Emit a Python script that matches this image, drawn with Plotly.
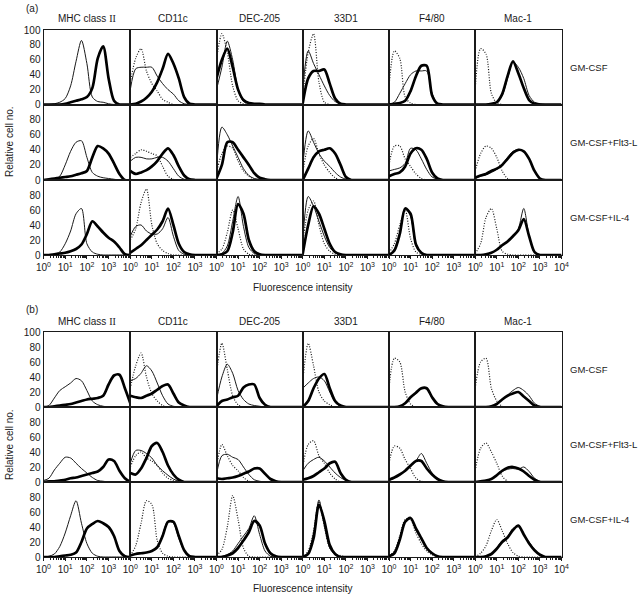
import plotly.graph_objects as go

# ---------------- data ----------------
# fluorescence bins (channel values, log-spaced, quarter decades)
bins = [1, 1.778, 3.162, 5.623, 10, 17.78, 31.62, 56.23, 100, 177.8, 316.2, 562.3,
        1000, 1778, 3162, 5623, 10000]

markers = ["MHC class <span style='font-family:Liberation Serif, serif'>II</span>",
           "CD11c", "DEC-205", "33D1", "F4/80", "Mac-1"]
conditions = ["GM-CSF", "GM-CSF+Flt3-L", "GM-CSF+IL-4"]
x_tick_vals = [1, 10, 100, 1000, 10000]
x_tick_text = ["10<sup>0</sup>", "10<sup>1</sup>", "10<sup>2</sup>", "10<sup>3</sup>", "10<sup>4</sup>"]
y_tick_vals = [0, 20, 40, 60, 80, 100]

# ----- panel (a) -----
a1_mhc_thin = [0, 0, 1, 3, 8, 25, 58, 86, 55, 10, 4, 3, 1]
a1_mhc_thick = [0, 0, 0, 0, 1, 3, 5, 7, 10, 22, 62, 78, 35, 5, 0]
a1_cd11c_dot = [30, 62, 75, 45, 28, 18, 7, 3, 0]
a1_cd11c_thin = [20, 48, 50, 50, 50, 38, 28, 20, 14, 5, 1, 0]
a1_cd11c_thick = [0, 1, 4, 9, 17, 30, 48, 68, 55, 35, 10, 1, 0]
a1_dec_dot = [60, 95, 70, 25, 5, 1, 0]
a1_dec_thin = [20, 50, 85, 60, 20, 4, 1, 0]
a1_dec_thick = [35, 60, 75, 50, 20, 6, 2, 1, 1, 0]
a1_33d1_dot = [10, 70, 95, 30, 3, 0]
a1_33d1_thin = [20, 72, 55, 40, 25, 12, 4, 1, 0]
a1_33d1_thick = [2, 35, 45, 45, 47, 28, 8, 1, 0]
a1_f480_dot = [25, 72, 62, 10, 2, 0]
a1_f480_thin = [0, 3, 15, 28, 40, 45, 45, 45, 15, 1, 0]
a1_f480_thick = [0, 1, 2, 5, 18, 38, 52, 52, 12, 1, 0]
a1_mac_dot = [20, 75, 68, 15, 2, 0]
a1_mac_thin = [0, 0, 0, 1, 3, 12, 35, 57, 50, 35, 12, 3, 1, 0]
a1_mac_thick = [0, 0, 0, 1, 3, 14, 38, 58, 42, 22, 6, 1, 0]

a2_mhc_thin = [0, 0, 1, 5, 20, 38, 50, 52, 30, 10, 5, 3, 2, 1, 0]
a2_mhc_thick = [0, 1, 2, 3, 4, 5, 7, 9, 12, 30, 45, 42, 35, 22, 8, 0, 0]
a2_cd11c_dot = [30, 35, 40, 38, 35, 32, 18, 5, 1, 0]
a2_cd11c_thin = [25, 30, 30, 28, 28, 30, 30, 25, 15, 5, 1, 0]
a2_cd11c_thick = [12, 8, 10, 13, 18, 25, 35, 42, 33, 18, 6, 1, 0]
a2_dec_dot = [10, 35, 45, 42, 25, 12, 5, 1, 0]
a2_dec_thin = [15, 70, 60, 45, 30, 15, 6, 2, 1, 0]
a2_dec_thick = [2, 20, 50, 50, 40, 30, 20, 9, 3, 1, 0]
a2_33d1_dot = [10, 45, 55, 35, 20, 10, 3, 0]
a2_33d1_thin = [20, 65, 50, 35, 25, 18, 10, 4, 1, 0]
a2_33d1_thick = [0, 15, 30, 38, 40, 42, 35, 20, 4, 0]
a2_f480_dot = [20, 45, 45, 28, 18, 8, 2, 0]
a2_f480_thin = [12, 14, 16, 22, 42, 40, 28, 14, 4, 1, 0]
a2_f480_thick = [5, 8, 10, 18, 35, 42, 40, 28, 10, 2, 0]
a2_mac_dot = [12, 35, 45, 42, 30, 12, 2, 0]
a2_mac_thin = [2, 5, 7, 10, 14, 20, 30, 38, 40, 38, 28, 12, 2, 0]
a2_mac_thick = [3, 6, 8, 12, 15, 20, 28, 36, 40, 38, 28, 12, 2, 0]

a3_mhc_thin = [0, 0, 1, 4, 15, 32, 55, 62, 15, 4, 1, 0]
a3_mhc_thick = [0, 0, 1, 2, 3, 5, 8, 14, 28, 45, 38, 30, 23, 18, 10, 1, 0]
a3_cd11c_dot = [20, 35, 70, 88, 40, 15, 6, 2, 0]
a3_cd11c_thin = [25, 38, 40, 32, 28, 28, 35, 50, 25, 6, 1, 0]
a3_cd11c_thick = [3, 8, 13, 20, 27, 34, 45, 62, 40, 15, 4, 1, 0]
a3_dec_dot = [2, 8, 30, 60, 35, 8, 1, 0]
a3_dec_thin = [0, 2, 12, 45, 78, 38, 10, 2, 0]
a3_dec_thick = [0, 1, 5, 30, 68, 55, 20, 5, 1, 0]
a3_33d1_dot = [15, 60, 72, 40, 15, 5, 1, 0]
a3_33d1_thin = [20, 78, 65, 45, 25, 10, 3, 1, 0]
a3_33d1_thick = [2, 40, 65, 55, 35, 15, 4, 1, 0]
a3_f480_dot = [3, 15, 40, 60, 22, 4, 1, 0]
a3_f480_thin = [0, 8, 30, 62, 52, 12, 2, 0]
a3_f480_thick = [0, 6, 28, 62, 55, 14, 3, 0]
a3_mac_dot = [2, 15, 50, 62, 35, 5, 1, 0]
a3_mac_thin = [0, 0, 1, 3, 7, 13, 18, 25, 35, 62, 25, 3, 0]
a3_mac_thick = [0, 0, 1, 3, 7, 13, 18, 25, 33, 48, 25, 4, 0]

# ----- panel (b) -----
b1_mhc_thin = [0, 2, 12, 22, 27, 32, 38, 35, 22, 8, 3, 1, 0]
b1_mhc_thick = [0, 0, 1, 2, 3, 4, 6, 8, 10, 11, 12, 15, 30, 42, 43, 25, 5]
b1_cd11c_dot = [25, 55, 72, 40, 18, 8, 2, 0]
b1_cd11c_thin = [35, 38, 45, 55, 48, 32, 15, 4, 1, 0]
b1_cd11c_thick = [15, 13, 12, 15, 18, 23, 28, 30, 18, 6, 2, 0]
b1_dec_dot = [45, 85, 50, 15, 3, 0]
b1_dec_thin = [10, 40, 57, 45, 22, 10, 4, 2, 1, 0]
b1_dec_thick = [1, 8, 10, 13, 15, 26, 30, 30, 12, 3, 0]
b1_33d1_dot = [35, 85, 55, 20, 8, 3, 0]
b1_33d1_thin = [25, 32, 38, 40, 35, 20, 6, 1, 0]
b1_33d1_thick = [0, 8, 25, 38, 44, 25, 8, 2, 0]
b1_f480_dot = [25, 65, 60, 20, 4, 0]
b1_f480_thin = [0, 0, 1, 5, 12, 18, 24, 24, 12, 4, 1, 0]
b1_f480_thick = [0, 0, 1, 5, 13, 19, 25, 25, 13, 4, 1, 0]
b1_mac_dot = [25, 60, 65, 25, 8, 1, 0]
b1_mac_thin = [0, 0, 0, 1, 4, 10, 16, 22, 26, 22, 15, 5, 1, 0]
b1_mac_thick = [0, 0, 0, 1, 4, 10, 15, 18, 20, 14, 8, 2, 0]

b2_mhc_thin = [2, 5, 16, 25, 33, 32, 25, 18, 12, 6, 2, 1, 0]
b2_mhc_thick = [0, 1, 1, 2, 3, 5, 6, 8, 10, 12, 14, 20, 30, 28, 15, 5, 0]
b2_cd11c_dot = [20, 35, 40, 32, 28, 22, 12, 5, 2, 0]
b2_cd11c_thin = [25, 42, 42, 38, 32, 22, 15, 9, 4, 1, 0]
b2_cd11c_thick = [12, 10, 18, 32, 48, 52, 40, 22, 10, 3, 0]
b2_dec_dot = [20, 50, 35, 22, 15, 6, 1, 0]
b2_dec_thin = [10, 35, 37, 33, 30, 20, 10, 3, 1, 0]
b2_dec_thick = [5, 4, 5, 6, 8, 11, 14, 18, 18, 11, 4, 1, 0]
b2_33d1_dot = [20, 50, 55, 35, 25, 12, 4, 0]
b2_33d1_thin = [15, 25, 30, 33, 28, 20, 12, 6, 2, 0]
b2_33d1_thick = [3, 5, 8, 13, 18, 25, 27, 12, 3, 0]
b2_f480_dot = [25, 48, 45, 30, 18, 5, 1, 0]
b2_f480_thin = [2, 5, 10, 15, 20, 28, 38, 25, 12, 5, 1, 0]
b2_f480_thick = [3, 6, 10, 15, 22, 28, 28, 18, 10, 4, 1, 0]
b2_mac_dot = [15, 45, 52, 40, 25, 8, 1, 0]
b2_mac_thin = [0, 1, 2, 4, 9, 14, 17, 18, 17, 20, 14, 5, 1, 0]
b2_mac_thick = [0, 1, 2, 4, 9, 15, 19, 20, 18, 14, 8, 3, 0]

b3_mhc_thin = [0, 1, 4, 14, 32, 55, 75, 45, 18, 5, 1, 0]
b3_mhc_thick = [0, 0, 0, 1, 2, 3, 6, 20, 38, 44, 48, 45, 40, 28, 8, 1, 0]
b3_cd11c_dot = [2, 15, 45, 75, 70, 22, 5, 1, 0]
b3_cd11c_thin = [2, 4, 5, 6, 8, 13, 30, 48, 45, 25, 8, 1, 0]
b3_cd11c_thick = [2, 4, 5, 6, 8, 13, 28, 47, 47, 28, 9, 1, 0]
b3_dec_dot = [2, 10, 40, 82, 50, 12, 1, 0]
b3_dec_thin = [0, 1, 3, 8, 18, 28, 38, 55, 30, 8, 1, 0]
b3_dec_thick = [0, 0, 2, 5, 12, 22, 33, 48, 42, 18, 5, 1, 0]
b3_33d1_dot = [0, 8, 35, 74, 40, 12, 4, 2, 0]
b3_33d1_thin = [0, 6, 32, 76, 42, 12, 3, 0]
b3_33d1_thick = [0, 4, 25, 70, 48, 16, 4, 0]
b3_f480_dot = [2, 8, 28, 50, 50, 32, 18, 8, 3, 1, 0]
b3_f480_thin = [1, 6, 25, 48, 52, 37, 24, 12, 5, 1, 0]
b3_f480_thick = [1, 5, 23, 47, 52, 38, 25, 12, 5, 1, 0]
b3_mac_dot = [0, 5, 15, 35, 50, 35, 18, 6, 1, 0]
b3_mac_thin = [0, 0, 1, 4, 12, 22, 27, 38, 40, 30, 20, 10, 3, 0]
b3_mac_thick = [0, 0, 1, 4, 11, 20, 26, 36, 42, 30, 18, 9, 3, 0]

panel_a = [
    [(None, a1_mhc_thin, a1_mhc_thick), (a1_cd11c_dot, a1_cd11c_thin, a1_cd11c_thick),
     (a1_dec_dot, a1_dec_thin, a1_dec_thick), (a1_33d1_dot, a1_33d1_thin, a1_33d1_thick),
     (a1_f480_dot, a1_f480_thin, a1_f480_thick), (a1_mac_dot, a1_mac_thin, a1_mac_thick)],
    [(None, a2_mhc_thin, a2_mhc_thick), (a2_cd11c_dot, a2_cd11c_thin, a2_cd11c_thick),
     (a2_dec_dot, a2_dec_thin, a2_dec_thick), (a2_33d1_dot, a2_33d1_thin, a2_33d1_thick),
     (a2_f480_dot, a2_f480_thin, a2_f480_thick), (a2_mac_dot, a2_mac_thin, a2_mac_thick)],
    [(None, a3_mhc_thin, a3_mhc_thick), (a3_cd11c_dot, a3_cd11c_thin, a3_cd11c_thick),
     (a3_dec_dot, a3_dec_thin, a3_dec_thick), (a3_33d1_dot, a3_33d1_thin, a3_33d1_thick),
     (a3_f480_dot, a3_f480_thin, a3_f480_thick), (a3_mac_dot, a3_mac_thin, a3_mac_thick)],
]
panel_b = [
    [(None, b1_mhc_thin, b1_mhc_thick), (b1_cd11c_dot, b1_cd11c_thin, b1_cd11c_thick),
     (b1_dec_dot, b1_dec_thin, b1_dec_thick), (b1_33d1_dot, b1_33d1_thin, b1_33d1_thick),
     (b1_f480_dot, b1_f480_thin, b1_f480_thick), (b1_mac_dot, b1_mac_thin, b1_mac_thick)],
    [(None, b2_mhc_thin, b2_mhc_thick), (b2_cd11c_dot, b2_cd11c_thin, b2_cd11c_thick),
     (b2_dec_dot, b2_dec_thin, b2_dec_thick), (b2_33d1_dot, b2_33d1_thin, b2_33d1_thick),
     (b2_f480_dot, b2_f480_thin, b2_f480_thick), (b2_mac_dot, b2_mac_thin, b2_mac_thick)],
    [(None, b3_mhc_thin, b3_mhc_thick), (b3_cd11c_dot, b3_cd11c_thin, b3_cd11c_thick),
     (b3_dec_dot, b3_dec_thin, b3_dec_thick), (b3_33d1_dot, b3_33d1_thin, b3_33d1_thick),
     (b3_f480_dot, b3_f480_thin, b3_f480_thick), (b3_mac_dot, b3_mac_thin, b3_mac_thick)],
]

# ---------------- layout geometry (pixels) ----------------
W, H = 641, 597
COLS = [43.5, 130.3, 216.5, 302.8, 389.0, 475.2, 561.5]
ROWS_A = [30, 104.5, 180, 255]
ROWS_B = [332, 407, 482, 557]
FONT = "Liberation Sans, Arial, sans-serif"
INK = "#1a1a1a"


def fx(px):
    return px / W


def fy(py):
    return 1 - py / H


def pad(v):
    return list(v) + [0] * (len(bins) - len(v))


minor_vals = [m * 10 ** d for d in range(4) for m in range(2, 10)]

fig = go.Figure()
layout = {}
n = 0
for rows_px, panel in ((ROWS_A, panel_a), (ROWS_B, panel_b)):
    for r in range(3):
        for c in range(6):
            n += 1
            sfx = "" if n == 1 else str(n)
            xa, ya = "x" + sfx, "y" + sfx
            dot, thin, thick = panel[r][c]
            if dot is not None:
                fig.add_trace(go.Scatter(x=bins, y=pad(dot), xaxis=xa, yaxis=ya, mode="lines",
                                         line=dict(color=INK, width=1.2, dash="1px,1.6px", shape="spline", smoothing=0.8),
                                         showlegend=False, hoverinfo="skip"))
            fig.add_trace(go.Scatter(x=bins, y=pad(thin), xaxis=xa, yaxis=ya, mode="lines",
                                     line=dict(color=INK, width=1, shape="spline", smoothing=0.8),
                                     showlegend=False, hoverinfo="skip"))
            fig.add_trace(go.Scatter(x=bins, y=pad(thick), xaxis=xa, yaxis=ya, mode="lines",
                                     line=dict(color="#000", width=2.7, shape="spline", smoothing=0.8),
                                     showlegend=False, hoverinfo="skip"))
            bottom = (r == 2)
            tv = x_tick_vals if c == 5 else x_tick_vals[:4]
            tt = x_tick_text if c == 5 else x_tick_text[:4]
            layout["xaxis" + sfx] = dict(
                type="log", range=[0, 4], domain=[fx(COLS[c]), fx(COLS[c + 1])], anchor=ya,
                showline=True, mirror=True, linecolor=INK, linewidth=1, showgrid=False, zeroline=False,
                tickmode="array", tickvals=tv, ticktext=tt, automargin=False,
                showticklabels=bottom, ticks="outside" if bottom else "", ticklen=3, tickcolor=INK,
                tickfont=dict(size=10, color=INK, family=FONT),
                minor=dict(tickmode="array", tickvals=minor_vals, ticks="outside" if bottom else "",
                           ticklen=2, tickcolor=INK),
                fixedrange=True,
            )
            ytv = y_tick_vals if r == 0 else y_tick_vals[:5]
            layout["yaxis" + sfx] = dict(
                range=[0, 100], domain=[fy(rows_px[r + 1]), fy(rows_px[r])], anchor=xa,
                showline=True, mirror=True, linecolor=INK, linewidth=1, showgrid=False, zeroline=False,
                tickmode="array", tickvals=ytv, showticklabels=(c == 0), ticks="", automargin=False,
                tickfont=dict(size=10, color=INK, family=FONT), fixedrange=True,
            )

ann = []


def txt(x, y, s, xanchor="center", angle=0, size=10):
    ann.append(dict(x=fx(x), y=fy(y), xref="paper", yref="paper", text=s, showarrow=False,
                    xanchor=xanchor, yanchor="middle", textangle=angle,
                    font=dict(size=size, color=INK, family=FONT)))


txt(24, 8, "(a)", "left")
txt(24, 309, "(b)", "left")
for c, m in enumerate(markers):
    cx = (COLS[c] + COLS[c + 1]) / 2
    txt(cx, 18, m)
    txt(cx, 321, m)
for rows_px in (ROWS_A, ROWS_B):
    for r, cond in enumerate(conditions):
        txt(568, (rows_px[r] + rows_px[r + 1]) / 2, cond, "left", size=9.5)
txt(9, 142, "Relative cell no.", angle=-90)
txt(9, 445, "Relative cell no.", angle=-90)
txt(303, 287, "Fluorescence intensity")
txt(303, 588, "Fluorescence intensity")

fig.update_layout(width=W, height=H, margin=dict(l=0, r=0, t=0, b=0, autoexpand=False),
                  paper_bgcolor="white", plot_bgcolor="white", annotations=ann,
                  template="none",
                  font=dict(family=FONT, size=10, color=INK), **layout)
fig.write_html("out.html", config={"displayModeBar": False},
               post_script="document.body.style.margin='0';document.body.style.overflow='hidden';")
